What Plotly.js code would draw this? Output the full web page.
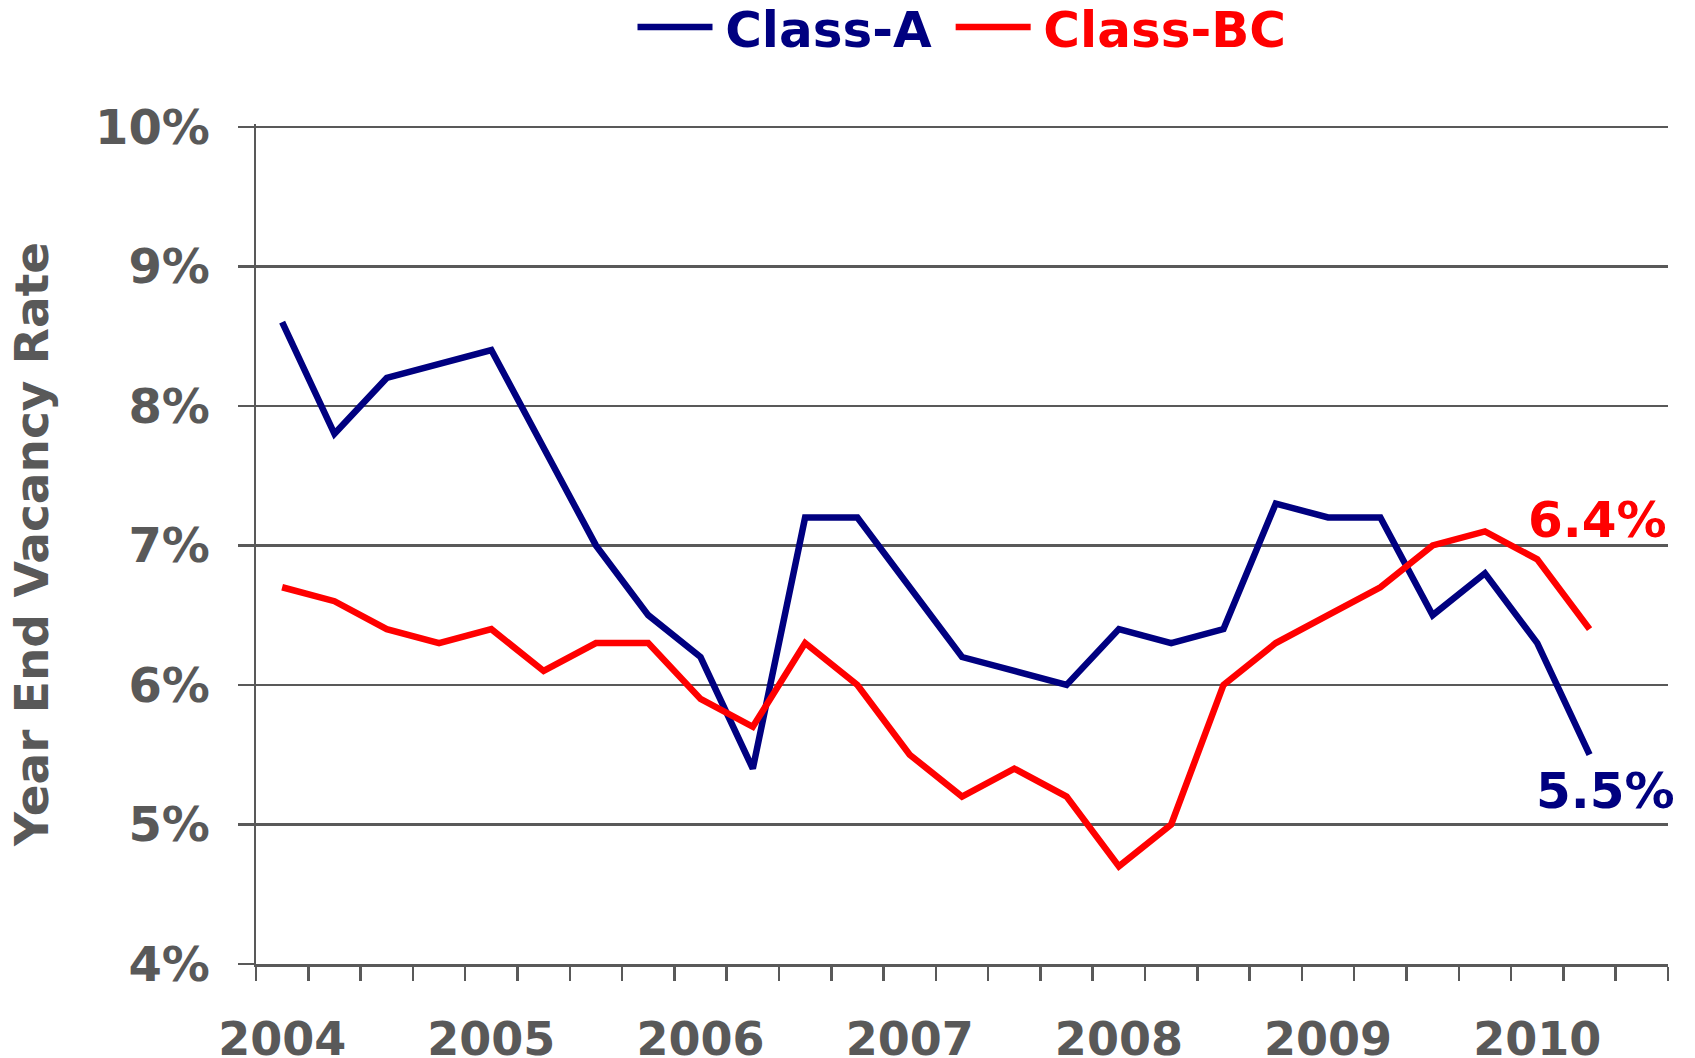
<!DOCTYPE html>
<html>
<head>
<meta charset="utf-8">
<script src="https://cdn.plot.ly/plotly-3.0.1.min.js"></script>
<style>html,body{margin:0;padding:0;background:#fff;}#chart{width:1695px;height:1058px;}</style>
</head>
<body>
<div id="chart"></div>
<script>
// Quarterly data, 2004 Q1 .. 2010 Q2 (category slots 0..25, slot 26 empty)
const quarterIndex = [0,1,2,3,4,5,6,7,8,9,10,11,12,13,14,15,16,17,18,19,20,21,22,23,24,25];
const classA  = [8.6,7.8,8.2,8.3,8.4,7.7,7.0,6.5,6.2,5.4,7.2,7.2,6.7,6.2,6.1,6.0,6.4,6.3,6.4,7.3,7.2,7.2,6.5,6.8,6.3,5.5];
const classBC = [6.7,6.6,6.4,6.3,6.4,6.1,6.3,6.3,5.9,5.7,6.3,6.0,5.5,5.2,5.4,5.2,4.7,5.0,6.0,6.3,6.5,6.7,7.0,7.1,6.9,6.4];
const yearTickIndex = [0,4,8,12,16,20,24];
const yearLabels = ["2004","2005","2006","2007","2008","2009","2010"];
const yTicks = [4,5,6,7,8,9,10];
const slotCount = 27;

const NAVY = "#000080", RED = "#FF0000", GRAY = "#595959";
const FONT = "DejaVu Sans";
const boundaries = [];
for (let i = 0; i <= slotCount; i++) boundaries.push(i - 0.5);

const last = quarterIndex.length - 1;
const pad = '<span style="font-size:22px">&nbsp;</span>';
const tailPad = '<span style="font-size:40px">&nbsp;</span>';

const traces = [
  {x: quarterIndex, y: classA, type: "scatter", mode: "lines", name: pad + '<span style="color:#000080">Class-A</span>' + tailPad,
   line: {color: NAVY, width: 6.5}, hoverinfo: "skip"},
  {x: quarterIndex, y: classBC, type: "scatter", mode: "lines", name: pad + '<span style="color:#FF0000">Class-BC</span>',
   line: {color: RED, width: 6.5}, hoverinfo: "skip"}
];

const layout = {
  width: 1695, height: 1058,
  margin: {l: 256, r: 27, t: 124, b: 94},
  paper_bgcolor: "#fff", plot_bgcolor: "#fff",
  font: {family: FONT, color: GRAY, size: 46, weight: 700},
  showlegend: true,
  legend: {orientation: "h", x: 0.5, xanchor: "center", xref: "paper",
           y: 1 - 27/1058, yref: "container", yanchor: "middle",
           font: {family: FONT, size: 50, weight: 700}, itemwidth: 75, bgcolor: "rgba(0,0,0,0)"},
  xaxis: {
    range: [-0.5, slotCount - 0.5], tickmode: "array", tickvals: yearTickIndex, ticktext: yearLabels,
    ticks: "", showgrid: false, zeroline: false, showline: true, linecolor: GRAY, linewidth: 2.5,
    ticklabelstandoff: 33,
    tickfont: {family: FONT, size: 46, color: GRAY, weight: 700},
    minor: {tickmode: "array", tickvals: boundaries, ticks: "outside", ticklen: 14, tickwidth: 2.5, tickcolor: GRAY, showgrid: false}
  },
  yaxis: {
    range: [4, 10.02], tickmode: "array", tickvals: yTicks, ticktext: yTicks.map(v => v + "%"),
    ticks: "outside", ticklen: 16, tickwidth: 2.5, tickcolor: GRAY,
    showgrid: true, gridcolor: GRAY, gridwidth: 2.5, zeroline: false,
    showline: true, linecolor: GRAY, linewidth: 2.5, ticklabelstandoff: 18,
    tickfont: {family: FONT, size: 48, color: GRAY, weight: 700},
    title: {text: "Year End Vacancy Rate", standoff: 32, font: {family: FONT, size: 47, color: GRAY, weight: 700}}
  },
  annotations: [
    {x: quarterIndex[last], y: classBC[last], xref: "x", yref: "y", text: classBC[last].toFixed(1) + "%",
     showarrow: false, xanchor: "center", yanchor: "middle", xshift: 8, yshift: 109,
     font: {family: FONT, size: 50, color: RED, weight: 700}},
    {x: quarterIndex[last], y: classA[last], xref: "x", yref: "y", text: classA[last].toFixed(1) + "%",
     showarrow: false, xanchor: "center", yanchor: "middle", xshift: 16, yshift: -36,
     font: {family: FONT, size: 50, color: NAVY, weight: 700}}
  ]
};

Plotly.newPlot("chart", traces, layout, {displayModeBar: false, staticPlot: true});
</script>
</body>
</html>
